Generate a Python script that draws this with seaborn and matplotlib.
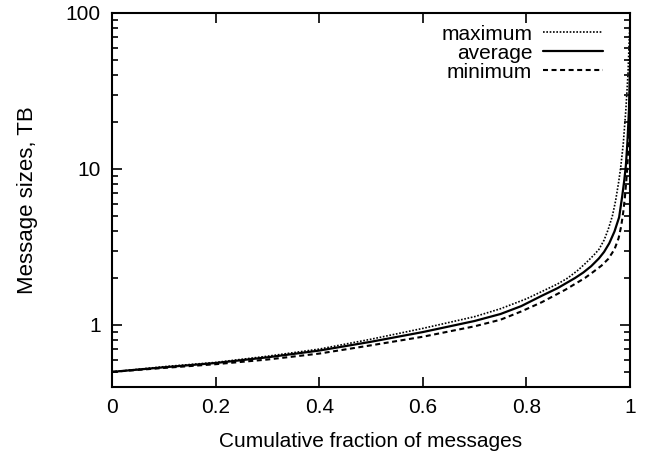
import numpy as np
import pandas as pd
import matplotlib
matplotlib.use("Agg")
import matplotlib.pyplot as plt
import seaborn as sns
from matplotlib.ticker import FixedLocator, FixedFormatter, LogLocator, NullFormatter

# ---- data ----
x_max = [0.0, 0.1, 0.2, 0.3, 0.4, 0.5, 0.6, 0.7, 0.75, 0.8, 0.84, 0.86, 0.88, 0.9, 0.915, 0.93, 0.94, 0.95, 0.958, 0.966, 0.972, 0.978, 0.982, 0.987, 0.992, 0.996, 1.0]
y_max = [0.50, 0.54, 0.575, 0.63, 0.70, 0.81, 0.95, 1.13, 1.27, 1.47, 1.70, 1.83, 2.0, 2.25, 2.5, 2.8, 3.05, 3.5, 4.1, 5.0, 6.2, 8.2, 10.2, 14.5, 24, 40, 90]

x_avg = [0.0, 0.1, 0.2, 0.3, 0.4, 0.5, 0.6, 0.7, 0.75, 0.79, 0.83, 0.86, 0.894, 0.91, 0.925, 0.94, 0.95, 0.96, 0.97, 0.979, 0.985, 0.989, 0.992, 0.995, 0.998, 1.0]
y_avg = [0.50, 0.535, 0.57, 0.62, 0.685, 0.78, 0.90, 1.06, 1.175, 1.32, 1.54, 1.72, 2.0, 2.17, 2.38, 2.67, 2.94, 3.34, 3.97, 4.9, 6.7, 8.5, 10.5, 14.8, 24, 45]

x_min = [0.0, 0.1, 0.2, 0.3, 0.4, 0.5, 0.6, 0.7, 0.75, 0.79, 0.83, 0.875, 0.913, 0.93, 0.945, 0.958, 0.97, 0.978, 0.983, 0.987, 0.99, 0.993, 0.995, 0.997, 0.999, 1.0]
y_min = [0.50, 0.53, 0.56, 0.60, 0.655, 0.74, 0.84, 0.98, 1.08, 1.22, 1.40, 1.68, 2.0, 2.2, 2.4, 2.65, 3.05, 3.6, 4.3, 5.3, 6.5, 8.5, 10.5, 14, 20, 28]

series_names = ["maximum", "average", "minimum"]
x_ticks = [0, 0.2, 0.4, 0.6, 0.8, 1]
x_tick_labels = ["0", "0.2", "0.4", "0.6", "0.8", "1"]
y_ticks = [1, 10, 100]
y_tick_labels = ["1", "10", "100"]

sns.set_style("ticks")
plt.rcParams["font.family"] = ["Liberation Sans", "DejaVu Sans"]
plt.rcParams["text.color"] = "black"
plt.rcParams["axes.labelcolor"] = "black"
plt.rcParams["xtick.color"] = "black"
plt.rcParams["ytick.color"] = "black"
plt.rcParams["axes.edgecolor"] = "black"

fig = plt.figure(figsize=(6.57, 4.55), dpi=100)
ax = fig.add_axes([112 / 657, 1 - 387 / 455, (630 - 112) / 657, (387 - 13) / 455])

styles = [(0, (1, 1)), "-", (0, (2.4, 1.7))]
widths = [1.2, 1.6, 1.5]
for name, xs, ys, ls, lw in zip(series_names, [x_max, x_avg, x_min], [y_max, y_avg, y_min], styles, widths):
    sns.lineplot(x=xs, y=ys, ax=ax, color="black", linestyle=ls, linewidth=lw, label=name)

ax.set_yscale("log")
ax.set_xlim(0, 1)
ax.set_ylim(0.4, 100)

ax.xaxis.set_major_locator(FixedLocator(x_ticks))
ax.xaxis.set_major_formatter(FixedFormatter(x_tick_labels))
ax.yaxis.set_major_locator(FixedLocator(y_ticks))
ax.yaxis.set_major_formatter(FixedFormatter(y_tick_labels))
ax.yaxis.set_minor_locator(LogLocator(base=10, subs=np.arange(2, 10)))
ax.yaxis.set_minor_formatter(NullFormatter())

ax.tick_params(which="both", direction="in", top=True, right=True, width=1.2, colors="black", labelsize=15)
ax.tick_params(which="major", length=7, pad=8)
ax.tick_params(which="minor", length=4)
for s in ax.spines.values():
    s.set_linewidth(1.5)
    s.set_color("black")
    s.set_visible(True)

ax.set_xlabel("Cumulative fraction of messages", fontsize=15, labelpad=11, color="black")
ax.set_ylabel("Message sizes, TB", fontsize=16, labelpad=20, color="black")

leg = ax.legend(loc="upper right", frameon=False, markerfirst=False, fontsize=15,
                handlelength=2.9, handletextpad=0.5, labelspacing=0.0,
                borderaxespad=0.3, bbox_to_anchor=(0.976, 1.008))
for t in leg.get_texts():
    t.set_ha("right")
    t.set_color("black")

fig.savefig("out.png", dpi=100)
